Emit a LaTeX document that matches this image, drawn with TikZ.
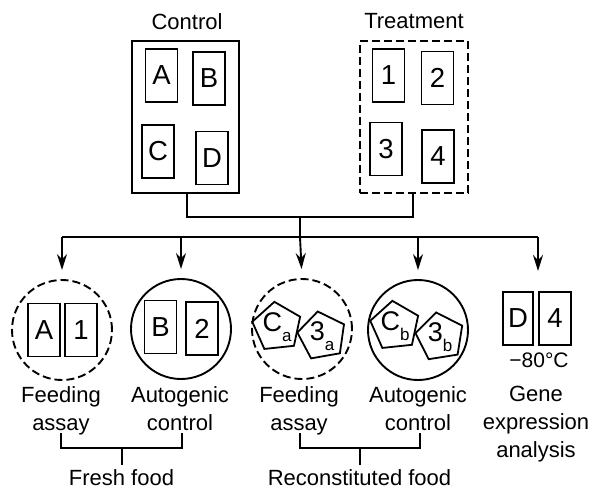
\documentclass[tikz,border=0pt]{standalone}
\usepackage{fontspec}
\setmainfont{Liberation Sans}
\usetikzlibrary{arrows.meta,shapes.geometric}
\begin{document}
\begin{tikzpicture}[x=1pt,y=-1pt,
  outer/.style={draw,line width=1.9pt,inner sep=0},
  tube/.style={draw,line width=1.8pt,inner sep=0,minimum width=32pt,minimum height=53pt,font=\fontsize{27.5}{27.5}\selectfont},
  pent/.style={draw,line width=1.8pt,regular polygon,regular polygon sides=5,minimum size=47pt,inner sep=0,font=\fontsize{27}{27}\selectfont},
  dish/.style={draw,circle,line width=1.9pt,minimum size=100pt,inner sep=0},
  dsh/.style={dash pattern=on 8pt off 4pt},
  lab/.style={font=\fontsize{22}{28}\selectfont,align=center,anchor=north,inner sep=0},
  conn/.style={line width=1.9pt},
  arr/.style={conn,-{Stealth[length=16pt,width=10pt]},shorten >=9pt}]
\useasboundingbox (0,0) rectangle (593,491);
\newcommand{\sbs}[1]{\raisebox{-0.35em}{\fontsize{17}{17}\selectfont #1}}

% top groups
\node[lab] (tctrl) at (187,13.5) {Control};
\node[lab] (ttreat) at (414,13.5) {Treatment};
\node[outer,minimum width=107pt,minimum height=152pt] (ctrl) at (185.5,117) {};
\node[outer,dsh,minimum width=108pt,minimum height=152pt] (treat) at (414,117) {};
\node[tube] (A) at (161.5,75.5) {A};
\node[tube] (B) at (209,78.5) {B};
\node[tube] (C) at (158,151.5) {C};
\node[tube] (D) at (212,158) {D};
\node[tube] (n1) at (388.5,75.5) {1};
\node[tube] (n2) at (437.5,78) {2};
\node[tube] (n3) at (386,149) {3};
\node[tube] (n4) at (438,156.5) {4};

% dishes
\node[dish,dsh] (c1) at (62,330) {};
\node[dish] (c2) at (181,329) {};
\node[dish,dsh] (c3) at (302,329) {};
\node[dish] (c4) at (418,330) {};

\node[tube] (A2) at (44,330) {A};
\node[tube] (n12) at (81,330) {1};
\node[tube] (B2) at (160.5,327) {B};
\node[tube] (n22) at (202,328.5) {2};
\node[pent,shape border rotate=6] (Ca) at (277,327) {C\sbs{a}};
\node[pent,shape border rotate=10] (n3a) at (322,336) {3\sbs{a}};
\node[pent,shape border rotate=6] (Cb) at (395,326) {C\sbs{b}};
\node[pent,shape border rotate=9] (n3b) at (440,337) {3\sbs{b}};
\node[tube,minimum width=30pt] (D2) at (518,318.5) {D};
\node[tube] (n42) at (555,318.5) {4};
\node[lab,font=\fontsize{21}{21}\selectfont] (temp) at (539,352.5) {\char"2212 80°C};

% labels
\node[lab] (fa1) at (61,386) {Feeding\\assay};
\node[lab] (ac1) at (180,386) {Autogenic\\control};
\node[lab] (fa2) at (299,386) {Feeding\\assay};
\node[lab] (ac2) at (418,386) {Autogenic\\control};
\node[lab] (gene) at (536,386) {Gene\\expression\\analysis};
\node[lab] (fresh) at (121.5,469.5) {Fresh food};
\node[lab] (recon) at (359.5,469.5) {Reconstituted food};

% connectors top
\coordinate (sc) at (187,193);
\coordinate (st) at (413,193);
\coordinate (join) at (300,217);
\coordinate (bar) at (300,237);
\coordinate (gtop) at (538,280);
\draw[conn] (sc) -- (187,217) -- (413,217) -- (st);
\draw[conn] (join) -- (bar);
\draw[conn] (c1.north |- bar) -- (gtop |- bar);
\draw[arr] (c1.north |- bar) -- (c1.north);
\draw[arr] (c2.north |- bar) -- (c2.north);
\draw[arr] (bar) -- (c3.north);
\draw[arr] (c4.north |- bar) -- (c4.north);
\draw[arr] (gtop |- bar) -- (gtop);

% brackets
\coordinate (b1l) at (61,433);
\coordinate (b1r) at (182,433);
\coordinate (b2l) at (300,433);
\coordinate (b2r) at (420,433);
\draw[conn] (b1l) -- (61,448) -- (182,448) -- (b1r);
\draw[conn] (122,448) -- (122,465);
\draw[conn] (b2l) -- (300,448) -- (420,448) -- (b2r);
\draw[conn] (360,448) -- (360,465);
\end{tikzpicture}
\end{document}
